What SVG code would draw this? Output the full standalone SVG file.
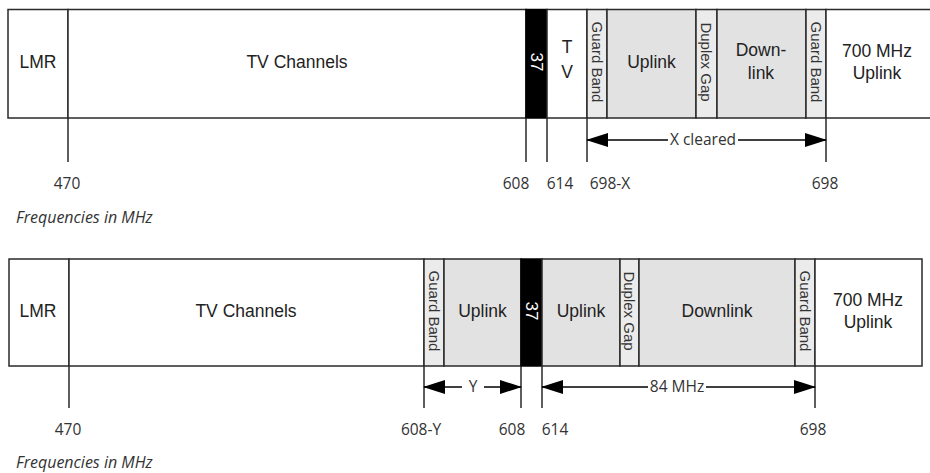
<svg xmlns="http://www.w3.org/2000/svg" width="930" height="473" viewBox="0 0 930 473">
<style>
.b{fill:#fff;stroke:#2a2a2a;stroke-width:1.5}
.g{fill:#e2e2e2;stroke:#2a2a2a;stroke-width:1.5}
.gb{fill:#ebebeb;stroke:#2a2a2a;stroke-width:1.5}
.k{fill:#000;stroke:#000;stroke-width:1.5}
.t{font-family:"Liberation Sans",Arial,sans-serif;font-size:17.5px;fill:#222;text-anchor:middle;dominant-baseline:central}
.v{font-family:"Liberation Sans",Arial,sans-serif;font-size:15px;fill:#333;text-anchor:middle;dominant-baseline:central}
.w{font-family:"Liberation Sans",Arial,sans-serif;font-size:17px;fill:#fff;text-anchor:middle;dominant-baseline:central}
.n{font-family:"Open Sans","Liberation Sans",sans-serif;font-size:15.5px;fill:#333;text-anchor:middle;dominant-baseline:central}
.f{font-family:"Open Sans","Liberation Sans",sans-serif;font-size:16px;font-style:italic;fill:#333}
.tk{stroke:#2a2a2a;stroke-width:1.5;fill:none}
.ar{stroke:#000;stroke-width:1.5;fill:none;marker-start:url(#ah);marker-end:url(#ah)}
</style>
<defs>
<marker id="ah" markerUnits="userSpaceOnUse" markerWidth="22" markerHeight="16" viewBox="0 0 22 16" refX="21" refY="8" orient="auto-start-reverse">
<path d="M0,1 L22,8 L0,15 Z" fill="#000"/>
</marker>
</defs>
<rect width="930" height="473" fill="#fff"/>

<!-- Top band plan -->
<g id="top-lmr"><rect class="b" x="8" y="9.5" width="60" height="108.5"/><text class="t" x="38" y="62">LMR</text></g>
<g id="top-tv"><rect class="b" x="68" y="9.5" width="458" height="108.5"/><text class="t" x="297" y="62">TV Channels</text></g>
<g id="top-37"><rect class="k" x="526" y="9.5" width="21" height="108.5"/><text class="w" transform="translate(536.5,62) rotate(90)">37</text></g>
<g id="top-tv2"><rect class="b" x="547" y="9.5" width="40" height="108.5"/><text class="t" x="567" y="47">T</text><text class="t" x="567" y="72">V</text></g>
<g id="top-guard1"><rect class="gb" x="587" y="9.5" width="20" height="108.5"/><text class="v" transform="translate(597,62) rotate(90)">Guard Band</text></g>
<g id="top-uplink"><rect class="g" x="607" y="9.5" width="89" height="108.5"/><text class="t" x="651.5" y="62">Uplink</text></g>
<g id="top-duplex"><rect class="gb" x="696" y="9.5" width="21" height="108.5"/><text class="v" transform="translate(706.5,62) rotate(90)">Duplex Gap</text></g>
<g id="top-downlink"><rect class="g" x="717" y="9.5" width="89" height="108.5"/><text class="t" x="761" y="50">Down-</text><text class="t" x="761" y="73">link</text></g>
<g id="top-guard2"><rect class="gb" x="806" y="9.5" width="20" height="108.5"/><text class="v" transform="translate(816,62) rotate(90)">Guard Band</text></g>
<g id="top-700"><rect class="b" x="826" y="9.5" width="106" height="108.5"/><text class="t" x="877" y="51">700 MHz</text><text class="t" x="877" y="73">Uplink</text></g>

<!-- Bottom band plan -->
<g id="bot-lmr"><rect class="b" x="9" y="259" width="60" height="107"/><text class="t" x="38" y="311">LMR</text></g>
<g id="bot-tv"><rect class="b" x="69" y="259" width="355" height="107"/><text class="t" x="246" y="311">TV Channels</text></g>
<g id="bot-guard1"><rect class="gb" x="424" y="259" width="20" height="107"/><text class="v" transform="translate(434,311) rotate(90)">Guard Band</text></g>
<g id="bot-uplink1"><rect class="g" x="444" y="259" width="77" height="107"/><text class="t" x="482.5" y="311">Uplink</text></g>
<g id="bot-37"><rect class="k" x="521" y="259" width="21" height="107"/><text class="w" transform="translate(531.5,311) rotate(90)">37</text></g>
<g id="bot-uplink2"><rect class="g" x="542" y="259" width="78" height="107"/><text class="t" x="581" y="311">Uplink</text></g>
<g id="bot-duplex"><rect class="gb" x="620" y="259" width="19" height="107"/><text class="v" transform="translate(629.5,311) rotate(90)">Duplex Gap</text></g>
<g id="bot-downlink"><rect class="g" x="639" y="259" width="156" height="107"/><text class="t" x="717" y="311">Downlink</text></g>
<g id="bot-guard2"><rect class="gb" x="795" y="259" width="20" height="107"/><text class="v" transform="translate(805,311) rotate(90)">Guard Band</text></g>
<g id="bot-700"><rect class="b" x="815" y="259" width="107" height="107"/><text class="t" x="868" y="300">700 MHz</text><text class="t" x="868" y="322">Uplink</text></g>

<!-- Connectors: ticks and dimension arrows -->
<g id="connectors">
<path class="tk" d="M68,118V162M526,118V162M547,118V162M587,118V162M826,118V162"/>
<path class="tk" d="M69,366V408M424,366V408M521,366V408M542,366V408M815,366V408"/>
<line class="ar" x1="587" y1="140" x2="826" y2="140"/>
<line class="ar" x1="424" y1="387" x2="521" y2="387"/>
<line class="ar" x1="542" y1="387" x2="815" y2="387"/>
</g>

<g id="dim-labels">
<rect x="668" y="130" width="70" height="20" fill="#fff"/>
<text class="n" x="703" y="139">X cleared</text>
<rect x="462" y="377" width="22" height="20" fill="#fff"/>
<text class="n" x="473" y="386">Y</text>
<rect x="648" y="377" width="58" height="20" fill="#fff"/>
<text class="n" x="677" y="386">84 MHz</text>
</g>

<g id="axis-labels">
<text class="n" x="67" y="183">470</text>
<text class="n" x="516" y="183">608</text>
<text class="n" x="560" y="183">614</text>
<text class="n" x="610" y="183">698-X</text>
<text class="n" x="825" y="183">698</text>
<text class="f" x="16" y="223">Frequencies in MHz</text>
<text class="n" x="68" y="429">470</text>
<text class="n" x="421" y="429">608-Y</text>
<text class="n" x="512" y="429">608</text>
<text class="n" x="555" y="429">614</text>
<text class="n" x="813" y="429">698</text>
<text class="f" x="16" y="468">Frequencies in MHz</text>
</g>
</svg>
